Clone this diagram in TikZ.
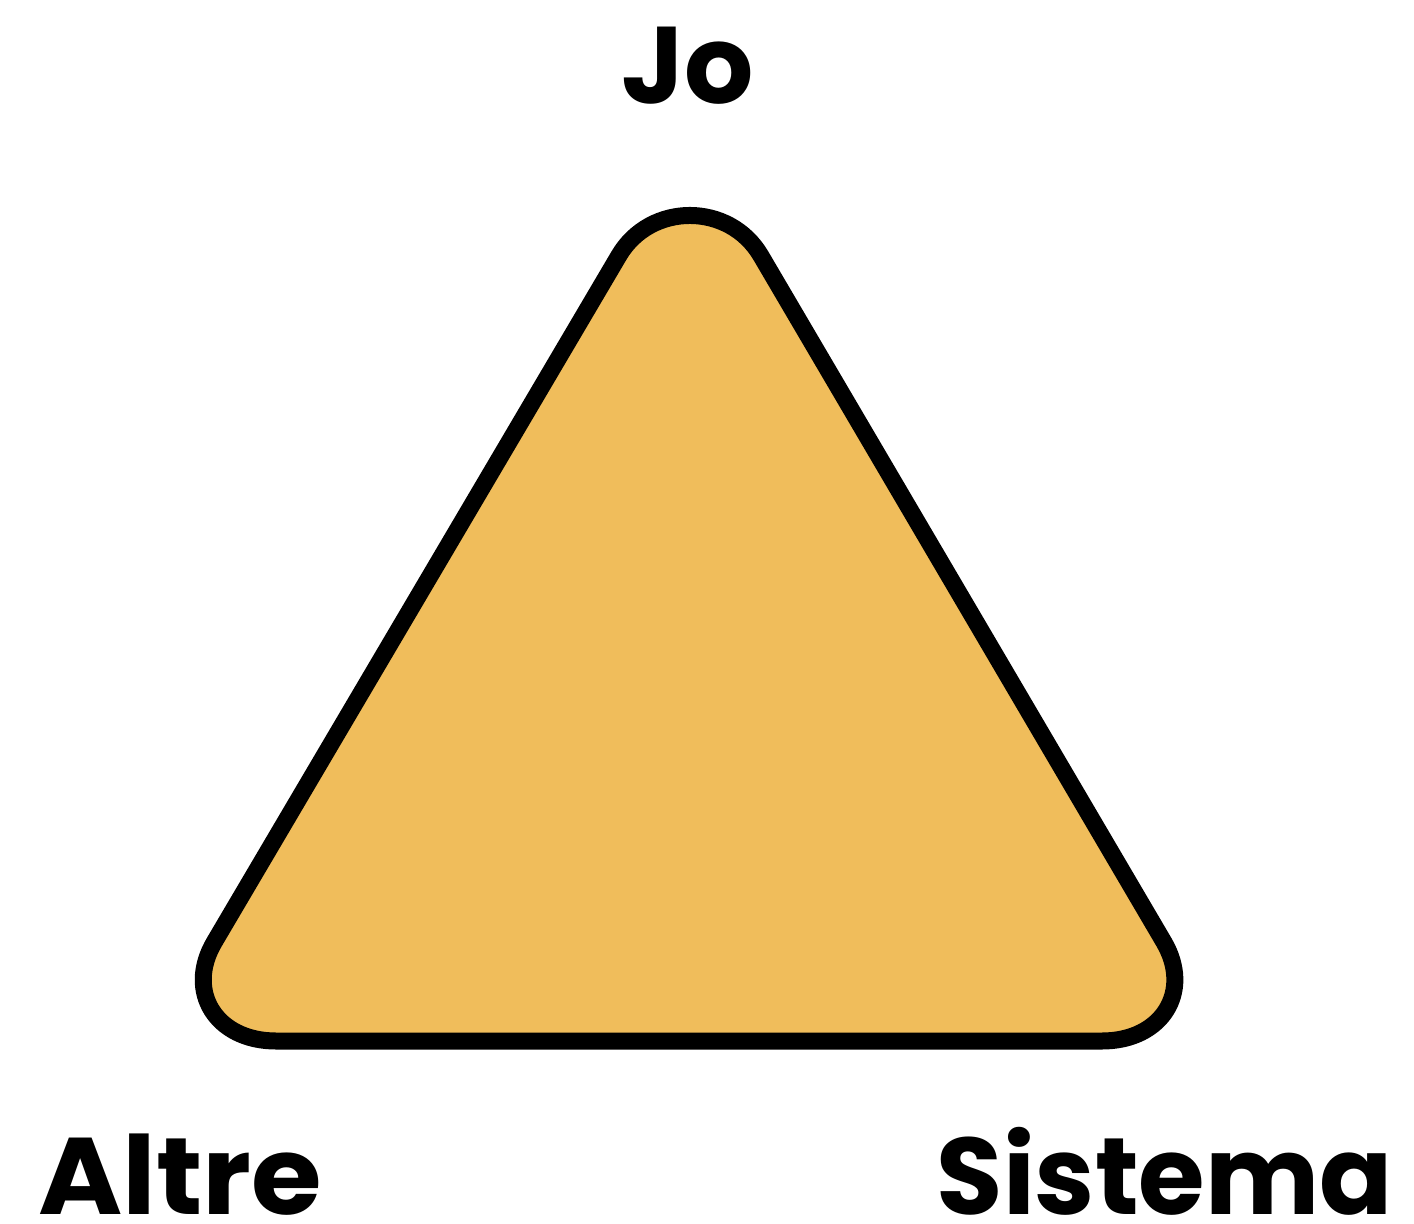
\documentclass[tikz,border=0pt]{standalone}
\usepackage{fontspec}
\usepackage{graphicx}
\setmainfont{Poppins}
\usetikzlibrary{calc}
\definecolor{trifill}{HTML}{F0BD5B}
\begin{document}
\begin{tikzpicture}[x=0.02cm,y=-0.02cm,
  lbl/.style={font=\fontsize{62}{62}\selectfont\bfseries, inner sep=0pt, text depth=0pt, anchor=base},
  tri/.style={draw=black, fill=trifill, line width=17*0.02cm, line join=round}]
\useasboundingbox (0,0) rectangle (1414,1224);
\coordinate (top) at (690,135);
\coordinate (bl) at (156,1041);
\coordinate (br) at (1222,1041);
% points where the straight edges meet the rounded corners
\coordinate (t1) at ($(top)!2.8cm!(bl)$);
\coordinate (t2) at ($(top)!2.8cm!(br)$);
\coordinate (l1) at ($(bl)!2.3cm!(top)$);
\coordinate (l2) at ($(bl)!2.4cm!(br)$);
\coordinate (r1) at ($(br)!2.4cm!(bl)$);
\coordinate (r2) at ($(br)!2.3cm!(top)$);
\draw[tri] (t1)
  .. controls ($(t1)!0.444!(top)$) and ($(t2)!0.444!(top)$) .. (t2)
  -- (r2)
  .. controls ($(r2)!0.5!(br)$) and ($(r1)!0.5!(br)$) .. (r1)
  -- (l2)
  .. controls ($(l2)!0.5!(bl)$) and ($(l1)!0.5!(bl)$) .. (l1)
  -- cycle;
\node[lbl] (jo) at (688,103) {Jo};
\node[lbl, anchor=base west] (altre) at (38,1214) {\scalebox{1.05}[1]{Altre}};
\node[lbl, anchor=base east] (sistema) at (1393,1214) {\scalebox{0.99}[1]{Sistema}};
\end{tikzpicture}
\end{document}
